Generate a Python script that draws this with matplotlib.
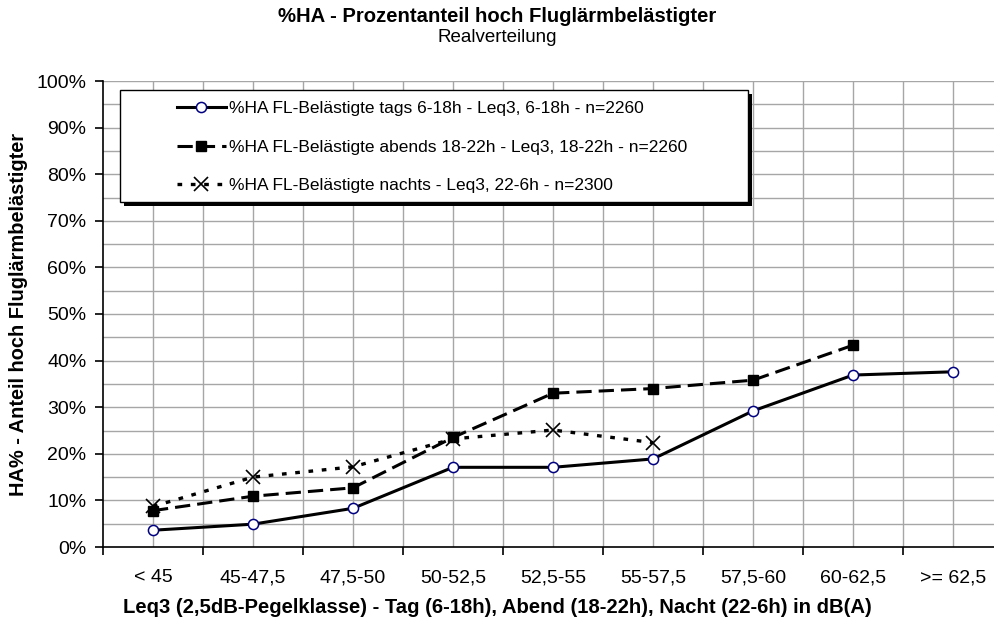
import numpy as np
import matplotlib
matplotlib.use("Agg")
from matplotlib import pyplot as plt
from matplotlib.patches import Rectangle

plt.rcParams['font.family'] = ['Liberation Sans', 'DejaVu Sans']

# data
klassen = ['< 45', '45-47,5', '47,5-50', '50-52,5', '52,5-55',
           '55-57,5', '57,5-60', '60-62,5', '>= 62,5']
ha_tags = [3.6, 4.9, 8.3, 17.1, 17.1, 18.9, 29.2, 36.9, 37.6]
ha_abends = [7.8, 10.9, 12.7, 23.5, 33.0, 34.0, 35.8, 43.3, np.nan]
ha_nachts = [8.7, 15.0, 17.2, 23.2, 25.1, 22.4, np.nan, np.nan, np.nan]

lbl_tags = '%HA FL-Belästigte tags 6-18h - Leq3, 6-18h - n=2260'
lbl_abends = '%HA FL-Belästigte abends 18-22h - Leq3, 18-22h - n=2260'
lbl_nachts = '%HA FL-Belästigte nachts - Leq3, 22-6h - n=2300'

W, H = 994, 625
fig = plt.figure(figsize=(W / 100, H / 100), dpi=100)

# plot area in pixels: left 103, bottom 547, top 81, right runs off the picture
ax = fig.add_axes([103 / W, (H - 547) / H, 900 / W, (547 - 81) / H])

x = np.arange(len(klassen))
ax.set_xlim(-0.5, len(klassen) - 0.5)
ax.set_ylim(0, 100)

grey = '#a6a6a6'
for gx in np.arange(0, len(klassen), 0.5):
    ax.axvline(gx, color=grey, lw=1, zorder=0)
for gy in np.arange(5, 101, 5):
    ax.axhline(gy, color=grey, lw=1, zorder=0)

ax.plot(x, ha_tags, color='black', lw=2.2, marker='o', ms=7.3,
        mfc='white', mec='#000080', mew=1.1, label=lbl_tags, zorder=3)
ax.plot(x, ha_abends, color='black', lw=2.2, ls=(0, (5, 2.3)), marker='s',
        ms=7.3, mfc='black', mec='black', label=lbl_abends, zorder=3)
ax.plot(x, ha_nachts, color='black', lw=2.4, ls=(0, (1.4, 2.6)), marker='x',
        ms=9.5, mec='black', mew=1.2, label=lbl_nachts, zorder=3)

for s in ['top', 'right']:
    ax.spines[s].set_visible(False)
ax.spines['left'].set_linewidth(1.2)
ax.spines['bottom'].set_linewidth(1.2)

ax.set_yticks(np.arange(0, 101, 10))
ax.set_yticklabels([f'{v}%' for v in range(0, 101, 10)])
ax.set_xticks(np.arange(-0.5, len(klassen), 1.0))
ax.set_xticklabels([])
ax.set_xticks(x, minor=True)
ax.set_xticklabels(klassen, minor=True)
ax.tick_params(axis='x', which='major', length=6, width=1.2, direction='out')
ax.tick_params(axis='x', which='minor', length=0, pad=16, labelsize=14)
ax.tick_params(axis='y', length=6, width=1.2, direction='out', pad=6,
               labelsize=14)

ax.set_xlabel('Leq3 (2,5dB-Pegelklasse) - Tag (6-18h), Abend (18-22h), '
              'Nacht (22-6h) in dB(A)', fontsize=14.6, fontweight='bold')
ax.xaxis.set_label_coords((497 - 103) / 900, -(598 - 547) / 466)
ax.set_ylabel('HA% - Anteil hoch Fluglärmbelästigter', fontsize=14.4,
              fontweight='bold')
ax.yaxis.set_label_coords(-(103 - 28) / 900, (547 - 314) / 466)

fig.text(0.5, 1 - 16 / H, '%HA - Prozentanteil hoch Fluglärmbelästigter',
         ha='center', va='center', fontsize=14.6, fontweight='bold')
fig.text(0.5, 1 - 38 / H, 'Realverteilung', ha='center', va='center',
         fontsize=13.5)

# legend box with black drop shadow
bx0, bx1, by0, by1 = 120, 748, 90, 202
fig.add_artist(Rectangle((bx0 + 4, H - by1 - 4), bx1 - bx0, by1 - by0,
                         transform=None, facecolor='black', edgecolor='none',
                         zorder=4))
fig.add_artist(Rectangle((bx0, H - by1), bx1 - bx0, by1 - by0,
                         transform=None, facecolor='white', edgecolor='black',
                         lw=1, zorder=5))
leg = fig.legend(loc='upper left', bbox_to_anchor=(177 / W, 1 - 101 / H),
                 frameon=False, fontsize=12.5, handlelength=49 / 17.4,
                 handletextpad=0.2, labelspacing=1.35, borderpad=0,
                 borderaxespad=0)
leg.set_zorder(6)

fig.savefig('out.png', dpi=100)
